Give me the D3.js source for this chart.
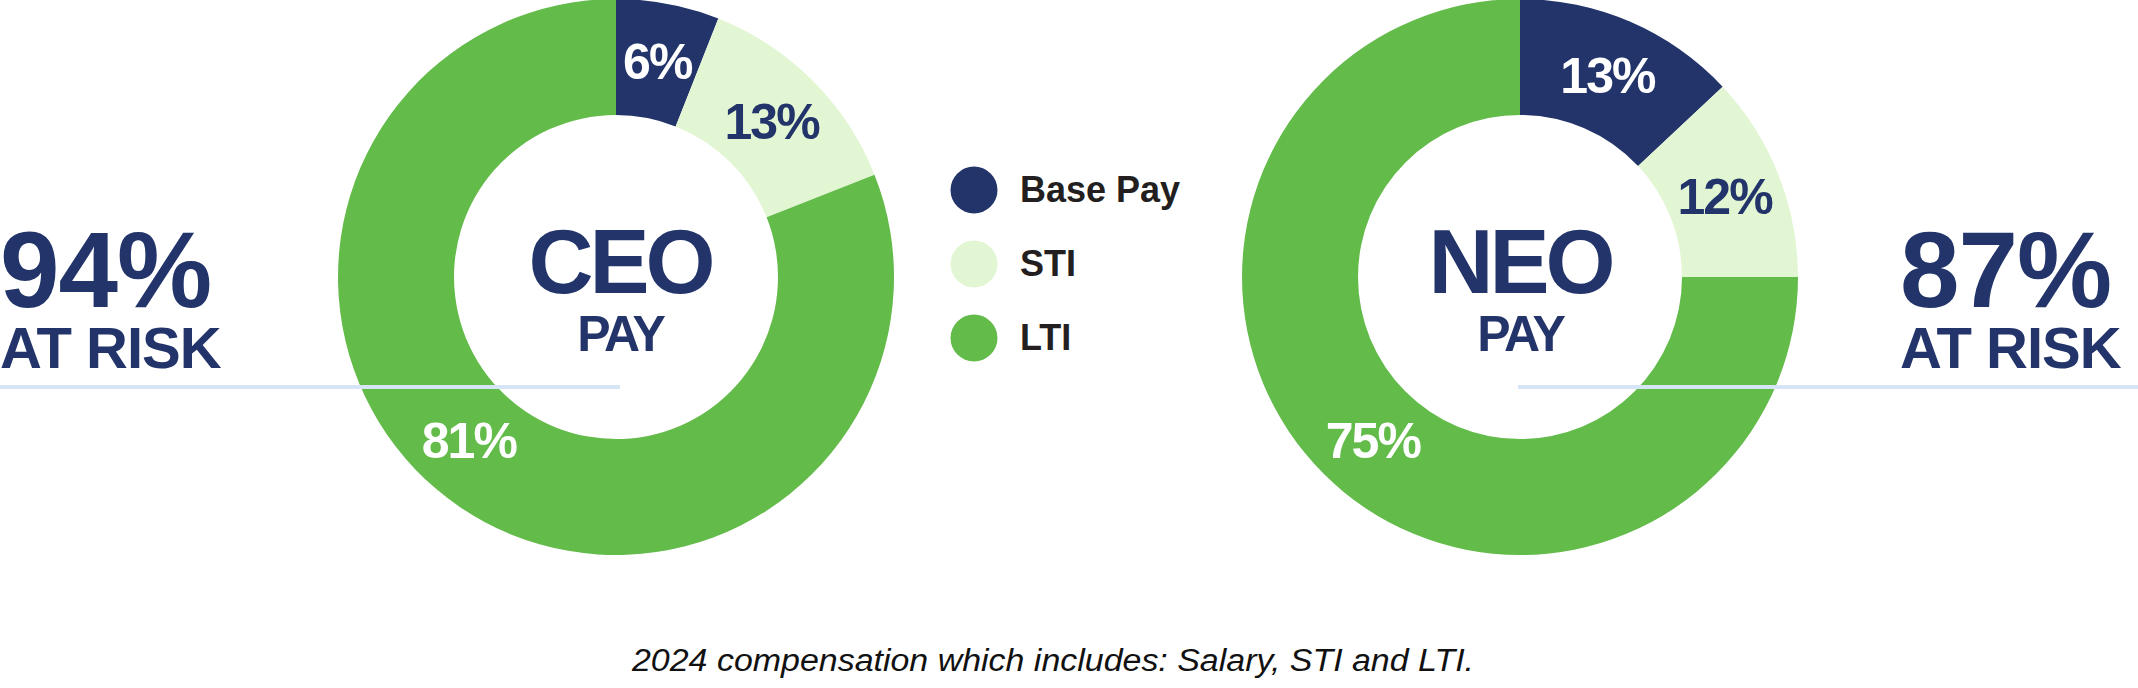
<!DOCTYPE html>
<html>
<head>
  <meta charset="utf-8">
  <script src="https://d3js.org/d3.v7.min.js"></script>
  <style>
    body { margin: 0; background: #fff; }
    svg { display: block; }
    .big, .title, .pct, .legend text {
      font-family: "Liberation Sans", Arial, Helvetica, sans-serif;
      font-weight: bold;
    }
    .caption {
      font-family: "Liberation Sans Narrow", "Liberation Sans", Arial, sans-serif;
      font-style: italic;
      font-size: 31px;
      fill: #111;
    }
    .risk-line {
      stroke: #d5e5f5;
      stroke-width: 4px;
    }
  </style>
</head>
<body>
<script>
  // pay mix (percent of total comp)
  var categories = ["Base Pay", "STI", "LTI"];
  var ceoValues = [6, 13, 81];
  var neoValues = [13, 12, 75];
  var chartNames = ["CEO", "NEO"];
  var chartSub = "PAY";
  var riskLabel = "AT RISK";
  var caption = "2024 compensation which includes: Salary, STI and LTI.";

  var width = 2138, height = 688;
  var navy = "#22346a";

  var color = d3.scaleOrdinal()
      .domain(categories)
      .range([navy, "#e3f6d3", "#63bb4a"]);

  // label colour inside each slice
  var labelColor = d3.scaleOrdinal()
      .domain(categories)
      .range(["#fff", navy, "#fff"]);

  var svg = d3.select("body").append("svg")
      .attr("width", width)
      .attr("height", height);

  var outerR = 278, innerR = 162;
  var pie = d3.pie().sort(null).value(function(d) { return d.value; });
  var arc = d3.arc().innerRadius(innerR).outerRadius(outerR);
  var midR = (innerR + outerR) / 2;

  var charts = [
    { name: chartNames[0], values: ceoValues, cx: 616, cy: 277, titleDx: 4 },
    { name: chartNames[1], values: neoValues, cx: 1520, cy: 277, titleDx: 0 }
  ];

  charts.forEach(function(c) {
    var rows = categories.map(function(k, i) { return { key: k, value: c.values[i] }; });
    var g = svg.append("g").attr("transform", "translate(" + c.cx + "," + c.cy + ")");

    g.selectAll("path.slice")
      .data(pie(rows))
      .enter().append("path")
        .attr("class", "slice")
        .attr("d", arc)
        .attr("fill", function(d) { return color(d.data.key); });

    g.selectAll("text.pct")
      .data(pie(rows))
      .enter().append("text")
        .attr("class", "pct")
        .attr("text-anchor", "middle")
        .attr("font-size", 50)
        .attr("letter-spacing", -2)
        .attr("dy", "0.36em")
        .attr("fill", function(d) { return labelColor(d.data.key); })
        .attr("transform", function(d) {
          // the big LTI slice gets its label lower left, same spot on both charts
          var a = d.data.key === "LTI" ? 222 * Math.PI / 180 : (d.startAngle + d.endAngle) / 2;
          return "translate(" + (midR * Math.sin(a)) + "," + (-midR * Math.cos(a)) + ")";
        })
        .text(function(d) { return d.data.value + "%"; });

    g.append("text")
      .attr("class", "title")
      .attr("x", c.titleDx)
      .attr("y", 16)
      .attr("text-anchor", "middle")
      .attr("font-size", 90)
      .attr("letter-spacing", -4)
      .attr("fill", navy)
      .text(c.name);

    g.append("text")
      .attr("class", "title")
      .attr("x", c.titleDx)
      .attr("y", 74)
      .attr("text-anchor", "middle")
      .attr("font-size", 50)
      .attr("letter-spacing", -3)
      .attr("fill", navy)
      .text(chartSub);

    // at risk = STI + LTI
    c.risk = d3.sum(c.values.slice(1));
  });

  // left and right "at risk" blocks with their rule lines
  var sides = [
    { x: 0, x1: 0, x2: charts[0].cx + 4, risk: charts[0].risk },
    { x: 1900, x1: charts[1].cx - 2, x2: width, risk: charts[1].risk }
  ];

  sides.forEach(function(s) {
    svg.append("line")
      .attr("class", "risk-line")
      .attr("x1", s.x1).attr("x2", s.x2)
      .attr("y1", 387).attr("y2", 387);

    svg.append("text")
      .attr("class", "big")
      .attr("x", s.x)
      .attr("y", 307)
      .attr("font-size", 107)
      .attr("letter-spacing", -1)
      .attr("fill", navy)
      .text(s.risk + "%");

    svg.append("text")
      .attr("class", "big")
      .attr("x", s.x)
      .attr("y", 368)
      .attr("font-size", 58)
      .attr("letter-spacing", -1)
      .attr("fill", navy)
      .text(riskLabel);
  });

  // legend
  var legend = svg.append("g")
      .attr("class", "legend")
      .attr("transform", "translate(974,190)");

  var item = legend.selectAll("g")
      .data(categories)
      .enter().append("g")
        .attr("transform", function(d, i) { return "translate(0," + (i * 74) + ")"; });

  item.append("circle")
      .attr("r", 23.5)
      .attr("fill", function(d) { return color(d); });

  item.append("text")
      .attr("x", 46)
      .attr("y", 12)
      .attr("font-size", 36)
      .attr("fill", "#231f20")
      .text(function(d) { return d; });

  svg.append("text")
      .attr("class", "caption")
      .attr("x", 632)
      .attr("y", 671)
      .attr("textLength", 842)
      .attr("lengthAdjust", "spacingAndGlyphs")
      .text(caption);
</script>
</body>
</html>
